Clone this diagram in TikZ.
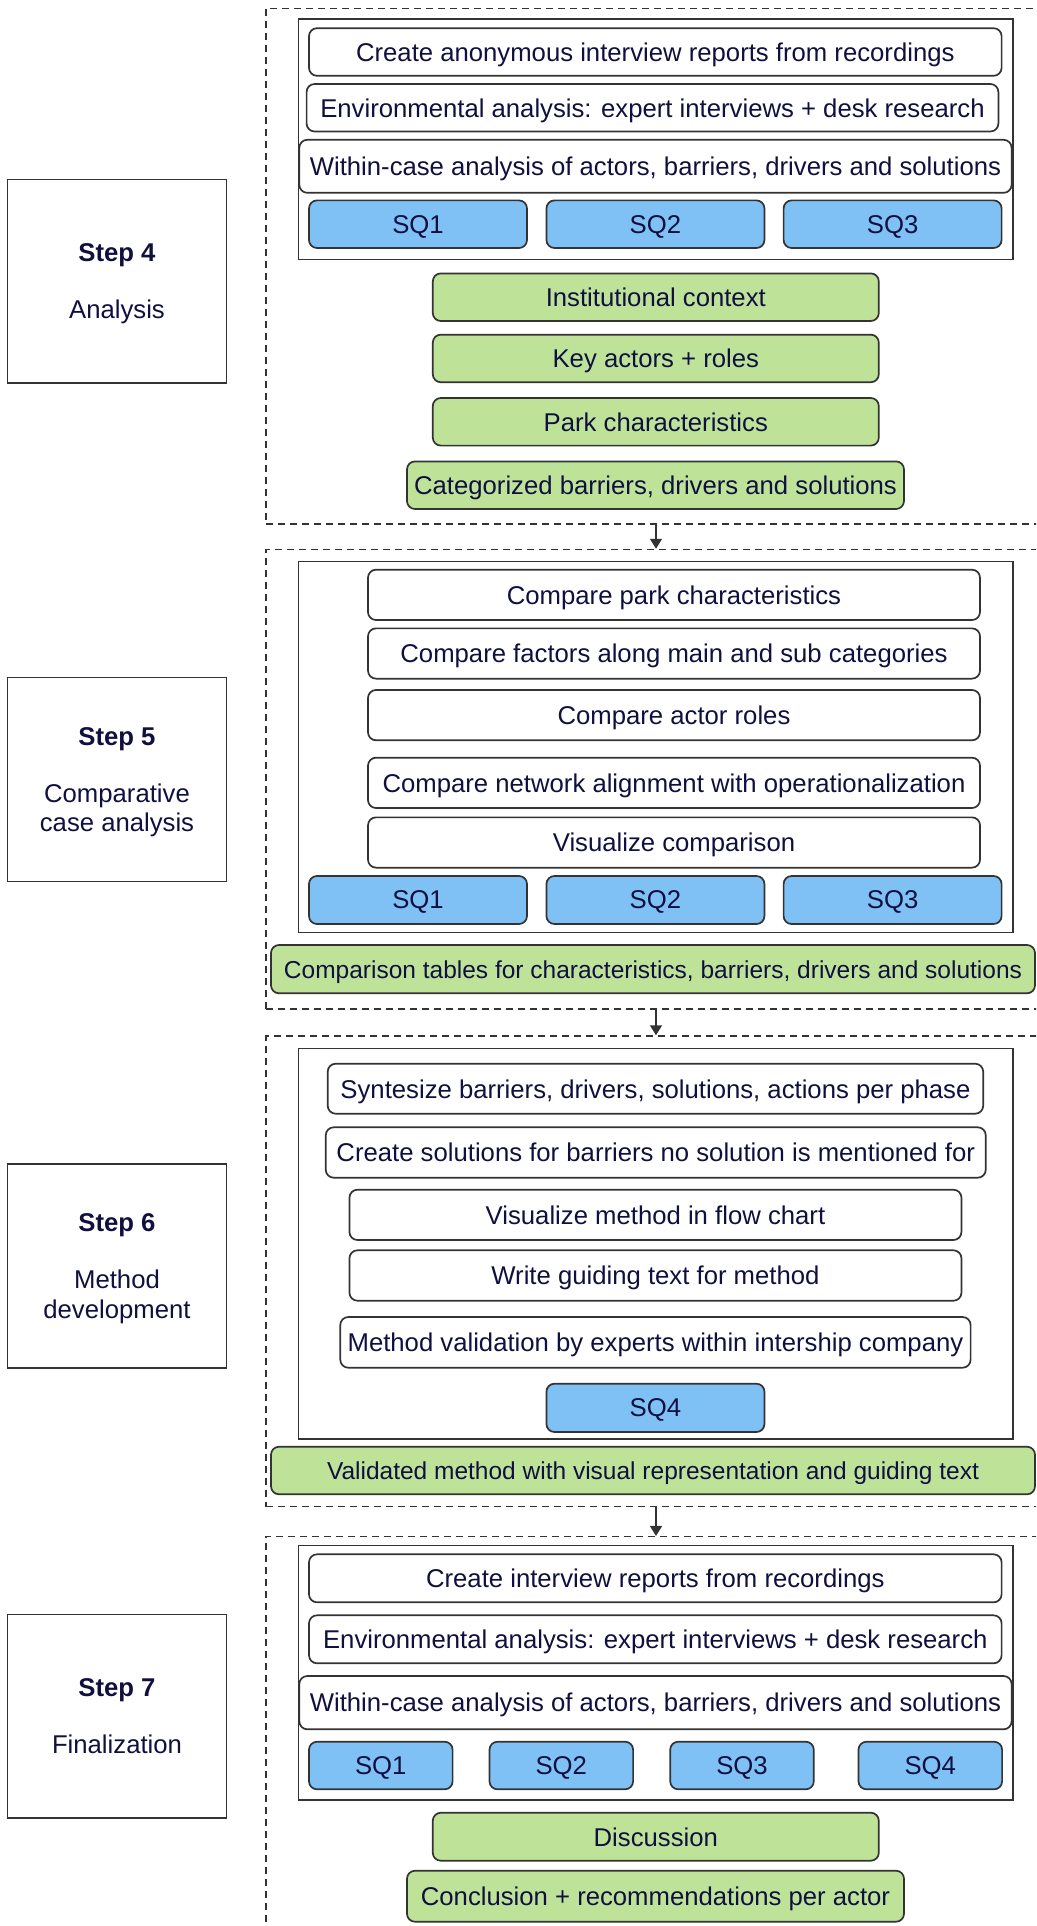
\documentclass[tikz,border=0pt]{standalone}
\usepackage{fontspec}
\setmainfont{Liberation Sans}
\usetikzlibrary{arrows.meta}
\definecolor{ink}{RGB}{16,16,64}
\definecolor{edge}{RGB}{51,51,51}
\definecolor{sqblue}{RGB}{127,192,245}
\definecolor{outgreen}{RGB}{190,227,152}

\begin{document}
\begin{tikzpicture}[x=1pt,y=-1pt,
  every node/.style={font=\fontsize{25.7}{29.5}\selectfont, text=ink, inner sep=0pt, text depth=0pt},
  task/.style={draw=edge, line width=1.7pt, rounded corners=8pt, fill=white},
  sq/.style={task, fill=sqblue},
  outcome/.style={task, fill=outgreen},
  wideout/.style={outcome, font=\fontsize{24.5}{28}\selectfont},
  frame/.style={draw=edge, line width=1.5pt},
  stepbox/.style={draw=edge, line width=1.5pt, minimum width=219, minimum height=203.6, align=center},
  phase/.style={draw=edge, line width=1.5pt, dash pattern=on 7pt off 5pt},
  flow/.style={draw=edge, line width=1.5pt, -{Triangle[length=10pt,width=12pt]}}
]
\clip (0,0) rectangle (1036,1926);

% ---------- phase containers ----------
\node[phase, minimum width=780, minimum height=515.4] (p4) at (656,266.3) {};
\node[phase, minimum width=780, minimum height=459.5] (p5) at (656,779.25) {};
\node[phase, minimum width=780, minimum height=470.5] (p6) at (656,1271.25) {};
\node[phase, minimum width=780, minimum height=413.3] (p7) at (656,1743.35) {};

\draw[flow] (p4.south) -- (p5.north);
\draw[flow] (p5.south) -- (p6.north);
\draw[flow] (p6.south) -- (p7.north);

% ---------- step labels ----------
\node[stepbox] (s4) at (117,281.2) {\textbf{Step 4}\\[27.5pt]Analysis};
\node[stepbox] (s5) at (117,779.5) {\textbf{Step 5}\\[27.5pt]Comparative\\case analysis};
\node[stepbox] (s6) at (117,1266) {\textbf{Step 6}\\[27.5pt]Method\\development};
\node[stepbox] (s7) at (117,1716.15) {\textbf{Step 7}\\[27.5pt]Finalization};

% ---------- Step 4: analysis ----------
\node[frame, minimum width=714.4, minimum height=240.4] (f4) at (655.8,139.1) {};
\node[task, minimum width=692.6, minimum height=47.6] (a1) at (655.3,52) {Create anonymous interview reports from recordings};
\node[task, minimum width=691.8, minimum height=47.5] (a2) at (652.5,107.75) {Environmental analysis: expert interviews + desk research};
\node[task, minimum width=712.3, minimum height=53] (a3) at (655.45,166.3) {Within-case analysis of actors, barriers, drivers and solutions};
\node[sq, minimum width=218, minimum height=47.6] (a4) at (418,224.2) {SQ1};
\node[sq, minimum width=218, minimum height=47.6] (a5) at (655.45,224.2) {SQ2};
\node[sq, minimum width=218, minimum height=47.6] (a6) at (892.6,224.2) {SQ3};
\node[outcome, minimum width=446, minimum height=47.6] (o41) at (655.8,297.2) {Institutional context};
\node[outcome, minimum width=446, minimum height=47.6] (o42) at (655.8,358.45) {Key actors + roles};
\node[outcome, minimum width=446, minimum height=47.6] (o43) at (655.8,421.8) {Park characteristics};
\node[outcome, minimum width=497, minimum height=47.6] (o44) at (655.5,485.2) {Categorized barriers, drivers and solutions};

% ---------- Step 5: comparative case analysis ----------
\node[frame, minimum width=714.4, minimum height=371] (f5) at (655.8,747.2) {};
\node[task, minimum width=612, minimum height=50.3] (b1) at (674,594.85) {Compare park characteristics};
\node[task, minimum width=612, minimum height=50.3] (b2) at (674,653.5) {Compare factors along main and sub categories};
\node[task, minimum width=612, minimum height=50.3] (b3) at (674,715.15) {Compare actor roles};
\node[task, minimum width=612, minimum height=50.3] (b4) at (674,782.85) {Compare network alignment with operationalization};
\node[task, minimum width=612, minimum height=50.3] (b5) at (674,842.5) {Visualize comparison};
\node[sq, minimum width=218, minimum height=48] (b6) at (418,900) {SQ1};
\node[sq, minimum width=218, minimum height=48] (b7) at (655.45,900) {SQ2};
\node[sq, minimum width=218, minimum height=48] (b8) at (892.6,900) {SQ3};
\node[wideout, minimum width=764, minimum height=48.3] (o5) at (653,969.15) {Comparison tables for characteristics, barriers, drivers and solutions};

% ---------- Step 6: method development ----------
\node[frame, minimum width=714.4, minimum height=390.3] (f6) at (655.8,1243.85) {};
\node[task, minimum width=655.5, minimum height=50] (c1) at (655.45,1088.7) {Syntesize barriers, drivers, solutions, actions per phase};
\node[task, minimum width=660, minimum height=50.4] (c2) at (655.75,1152.5) {Create solutions for barriers no solution is mentioned for};
\node[task, minimum width=612, minimum height=50.3] (c3) at (655.45,1214.85) {Visualize method in flow chart};
\node[task, minimum width=612, minimum height=50.4] (c4) at (655.45,1275.5) {Write guiding text for method};
\node[task, minimum width=630.3, minimum height=50.7] (c5) at (655.45,1342.35) {Method validation by experts within intership company};
\node[sq, minimum width=218, minimum height=48.3] (c6) at (655.45,1407.85) {SQ4};
\node[wideout, minimum width=764, minimum height=47.6] (o6) at (653,1470.5) {Validated method with visual representation and guiding text};

% ---------- Step 7: finalization ----------
\node[frame, minimum width=714.4, minimum height=254.3] (f7) at (655.8,1672.85) {};
\node[task, minimum width=692.6, minimum height=48] (d1) at (655.3,1578.3) {Create interview reports from recordings};
\node[task, minimum width=692.6, minimum height=48] (d2) at (655.3,1639.3) {Environmental analysis: expert interviews + desk research};
\node[task, minimum width=712.3, minimum height=53.3] (d3) at (655.45,1702.65) {Within-case analysis of actors, barriers, drivers and solutions};
\node[sq, minimum width=143.6, minimum height=47.6] (d4) at (380.8,1765.5) {SQ1};
\node[sq, minimum width=143.6, minimum height=47.6] (d5) at (561.3,1765.5) {SQ2};
\node[sq, minimum width=143.6, minimum height=47.6] (d6) at (742,1765.5) {SQ3};
\node[sq, minimum width=143.6, minimum height=47.6] (d7) at (930.3,1765.5) {SQ4};
\node[outcome, minimum width=446, minimum height=48] (o71) at (655.8,1836.7) {Discussion};
\node[outcome, minimum width=497, minimum height=51] (o72) at (655.5,1896.2) {Conclusion + recommendations per actor};
\end{tikzpicture}
\end{document}
